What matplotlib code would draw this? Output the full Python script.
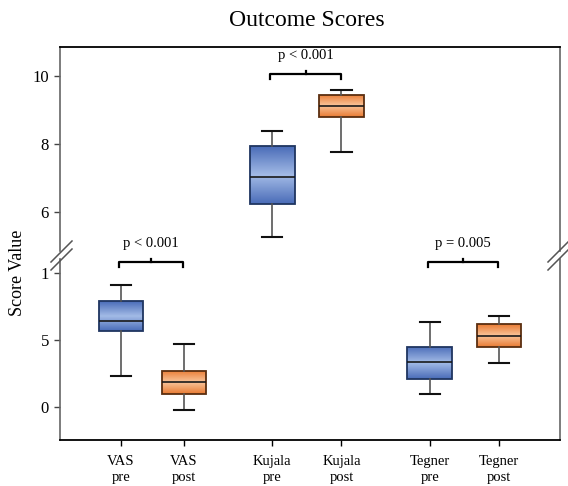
import numpy as np
import matplotlib
matplotlib.use('Agg')
import matplotlib.pyplot as plt
from matplotlib.colors import LinearSegmentedColormap

plt.rcParams['font.family'] = ['Liberation Serif', 'DejaVu Serif']

#----------------
# values

labels = ['VAS\npre', 'VAS\npost', 'Kujala\npre', 'Kujala\npost', 'Tegner\npre', 'Tegner\npost']
positions = [1, 2, 3.4, 4.5, 5.9, 7.0]

whislo = [2.3, -0.2, 5.26, 7.76, 0.97, 3.28]
q1     = [5.67, 0.97, 6.24, 8.79, 2.09, 4.48]
med    = [6.4, 1.87, 7.03, 9.12, 3.36, 5.3]
q3     = [7.9, 2.69, 7.94, 9.44, 4.48, 6.19]
whishi = [9.1, 4.7, 8.38, 9.59, 6.34, 6.79]

# which panel each box lives in (0 = lower, 1 = upper)
panel = [0, 0, 1, 1, 0, 0]

p_labels = ['p < 0.001', 'p < 0.001', 'p = 0.005']
pairs = [(0, 1), (2, 3), (4, 5)]
bracket_y = [10.82, 10.06, 10.82]

lower_ticks = [0, 5, 10]
lower_ticklabels = ['0', '5', '1']
upper_ticks = [6, 8, 10]
upper_ticklabels = ['6', '8', '10']

blue_map = LinearSegmentedColormap.from_list('b', ['#4a6cb8', '#a3bbe6', '#4a6cb8'])
orange_map = LinearSegmentedColormap.from_list('o', ['#e97b33', '#f9c49a', '#e97b33'])

#----------------

W, H = 568, 486
fig = plt.figure(figsize=(W / 100, H / 100), dpi=100)
ax_top = fig.add_axes([60 / W, 1 - 255 / H, 500 / W, 208 / H])
ax_bot = fig.add_axes([60 / W, 1 - 440 / H, 500 / W, 185 / H])

ax_top.set_ylim(4.735, 10.853)
ax_bot.set_ylim(-2.46, 11.34)
for ax in (ax_top, ax_bot):
    ax.set_xlim(0.03, 7.97)

#----------------
# fill a box with a dark-light-dark vertical gradient

def gradient_fill(ax, patch, cmap):
    v = patch.get_path().vertices
    x0, x1 = v[:, 0].min(), v[:, 0].max()
    y0, y1 = v[:, 1].min(), v[:, 1].max()
    img = ax.imshow(np.linspace(0, 1, 100).reshape(-1, 1), cmap=cmap,
                    extent=[x0, x1, y0, y1], aspect='auto', origin='lower',
                    zorder=1.9, interpolation='bilinear')
    img.set_clip_path(patch)


for i in range(len(labels)):
    ax = ax_top if panel[i] == 1 else ax_bot
    st = [dict(whislo=whislo[i], q1=q1[i], med=med[i], q3=q3[i], whishi=whishi[i], fliers=[])]
    is_pre = (i % 2 == 0)
    edge = '#1f3560' if is_pre else '#5a2e10'
    xl, yl = ax.get_xlim(), ax.get_ylim()
    bp = ax.bxp(st, positions=[positions[i]], widths=0.71, capwidths=0.32,
                patch_artist=True, showfliers=False,
                boxprops=dict(facecolor='none', edgecolor=edge, linewidth=1.3),
                medianprops=dict(color='#1a1a1a', linewidth=1.2),
                whiskerprops=dict(color='#555555', linewidth=1.2),
                capprops=dict(color='#111111', linewidth=1.5))
    gradient_fill(ax, bp['boxes'][0], blue_map if is_pre else orange_map)
    ax.set_xlim(xl)
    ax.set_ylim(yl)

#----------------
# axes styling

ax_top.spines['bottom'].set_visible(False)
ax_bot.spines['top'].set_visible(False)
for ax in (ax_top, ax_bot):
    for s in ('left', 'right'):
        ax.spines[s].set_color('#666666')
        ax.spines[s].set_linewidth(1.2)
ax_top.spines['top'].set_linewidth(1.3)
ax_bot.spines['bottom'].set_linewidth(1.3)

# leave a gap in the side spines where the break marks sit
y0, y1 = ax_top.get_ylim()
for s in ('left', 'right'):
    ax_top.spines[s].set_bounds(y0 + 0.02 * (y1 - y0), y1)
y0, y1 = ax_bot.get_ylim()
for s in ('left', 'right'):
    ax_bot.spines[s].set_bounds(y0, y1 - 0.022 * (y1 - y0))

ax_top.set_xticks([])
ax_top.set_yticks(upper_ticks)
ax_top.set_yticklabels(upper_ticklabels)
ax_bot.set_yticks(lower_ticks)
ax_bot.set_yticklabels(lower_ticklabels)
ax_bot.set_xticks(positions)
ax_bot.set_xticklabels(labels, linespacing=1.3)

for ax in (ax_top, ax_bot):
    ax.tick_params(axis='y', length=4, width=1, color='#444444', labelsize=12, pad=4, right=False)
ax_bot.tick_params(axis='x', length=4, width=1, labelsize=10.5, pad=7)

#----------------
# brackets with p values

for (a, b), txt, y in zip(pairs, p_labels, bracket_y):
    ax = ax_top if panel[a] == 1 else ax_bot
    lo, hi = ax.get_ylim()
    d = 5 / ax.get_window_extent().height * (hi - lo)
    xa, xb = positions[a] - 0.03, positions[b] - 0.01
    mid = (xa + xb) / 2
    ax.plot([xa, xa, xb, xb], [y - d, y, y, y - d], color='black', lw=1.6, clip_on=False)
    ax.plot([mid, mid], [y, y + d * 0.6], color='black', lw=1.6, clip_on=False)
    ax.annotate(txt, xy=(mid, y), xytext=(0, 13.5), textcoords='offset points',
                ha='center', va='center', fontsize=10.5)

#----------------
# break marks on both side spines

def brk(xc):
    for dy in (0, 8):
        fig.add_artist(plt.Line2D([(xc - 10) / W, (xc + 11) / W],
                                  [1 - (262 + dy) / H, 1 - (241 + dy) / H],
                                  color='#555555', lw=1.1))


brk(61)
brk(558)

fig.text(307 / W, 1 - 20 / H, 'Outcome Scores', ha='center', va='center', fontsize=17)
fig.text(18 / W, 1 - 273 / H, 'Score Value', ha='center', va='center', rotation=90, fontsize=13)

fig.savefig('out.png', dpi=100)
